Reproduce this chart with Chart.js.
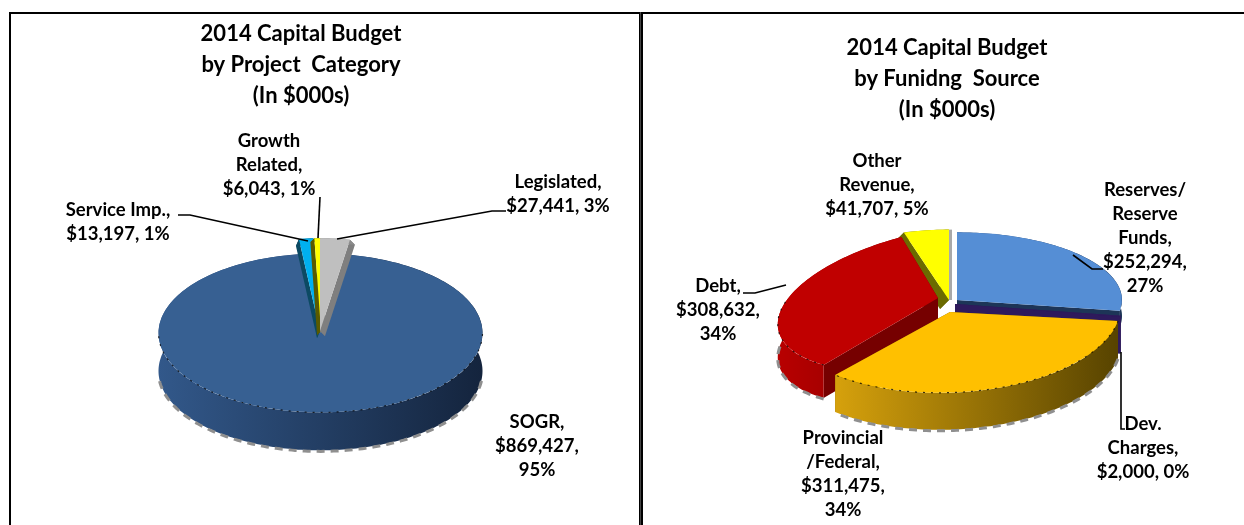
<!DOCTYPE html>
<html>
<head>
<meta charset="utf-8">
<script src="https://cdn.jsdelivr.net/npm/chart.js@4"></script>
<style>
  html, body { margin: 0; padding: 0; background: #fff; width: 1244px; height: 525px; overflow: hidden; }
  .rule { position: absolute; background: #000; }
  .chartbox { position: absolute; top: 0; height: 525px; }
</style>
</head>
<body>
<div class="rule" style="left:9px;top:12px;width:1235px;height:2px;"></div>
<div class="rule" style="left:9px;top:12px;width:2px;height:513px;"></div>
<div class="rule" style="left:639px;top:12px;width:4px;height:513px;background:linear-gradient(90deg,#000 0 35%,#444 35% 60%,#000 60% 100%);"></div>
<div class="chartbox" style="left:12px;width:620px;"><canvas id="byCategory"></canvas></div>
<div class="chartbox" style="left:645px;width:604px;"><canvas id="bySource"></canvas></div>
<script>
// Capital budget, $000s
const categoryNames = ["Legislated", "SOGR", "Service Imp.", "Growth Related"];
const categoryValues = [27441, 869427, 13197, 6043];
const categoryLabels = [
  ["Legislated,", "$27,441, 3%"],
  ["SOGR,", "$869,427,", "95%"],
  ["Service Imp.,", "$13,197, 1%"],
  ["Growth", "Related,", "$6,043, 1%"]
];
const categoryTitle = ["2014 Capital Budget", "by Project  Category", "(In $000s)"];

const sourceNames = ["Reserves/Reserve Funds", "Dev. Charges", "Provincial/Federal", "Debt", "Other Revenue"];
const sourceValues = [252294, 2000, 311475, 308632, 41707];
const sourceLabels = [
  ["Reserves/", "Reserve", "Funds,", "$252,294,", "27%"],
  ["Dev.", "Charges,", "$2,000, 0%"],
  ["Provincial", "/Federal,", "$311,475,", "34%"],
  ["Debt,", "$308,632,", "34%"],
  ["Other", "Revenue,", "$41,707, 5%"]
];
const sourceTitle = ["2014 Capital Budget", "by Funidng  Source", "(In $000s)"];

// Per-slice tilt: centre, affine map of the flat circle, radius, extrusion vector and colours.
const categoryFaces = [
  { cx: 320, cy: 331, a: 1, b: 0, c: 0, d: 0.58, r: 160, ex: 5, ey: 5, top: "#BFBFBF", cut: "#7f7f7f", wall: ["#8c8c8c", "#8c8c8c"] },
  { cx: 320.5, cy: 333, a: 1, b: 0, c: 0, d: 0.49, r: 162, ex: 0, ey: 38, top: "#376092", cut: "#1b2f49", wall: ["#32588a", "#14243d"], rim: true },
  { cx: 320, cy: 331, a: 1, b: 0, c: 0, d: 0.58, r: 160, ex: -3, ey: 7, top: "#00B0F0", cut: "#0c4a63", wall: ["#0c4a63", "#0c4a63"] },
  { cx: 321, cy: 331, a: 1, b: 0, c: 0, d: 0.58, r: 160, ex: -4, ey: 4, top: "#FFFF00", cut: "#5a5a00", wall: ["#5a5a00", "#5a5a00"] }
];
const categoryOrder = [1, 2, 3, 0];

const sourceFaces = [
  { cx: 957, cy: 300, a: 1, b: 0, c: 0, d: 0.41, r: 165, ex: 0, ey: 16, top: "#558ED5", cut: "#1d3557", wall: ["#2b4c7a", "#1d3557"] },
  { cx: 955, cy: 304, a: 1, b: 0, c: 0, d: 0.44, r: 168, ex: 0, ey: 37, top: "#2e1a5c", cut: "#2e1a5c", wall: ["#2e1a5c", "#2e1a5c"] },
  { cx: 950, cy: 312, a: 1.015, b: -0.03, c: 0, d: 0.48, r: 168, ex: 0, ey: 37, top: "#FFC000", cut: "#7a5c00", wall: ["#d6a10c", "#574300"], rim: true },
  { cx: 938, cy: 298, a: 1, b: -0.14, c: -0.056, d: 0.4385, r: 160, ex: 0, ey: 33, top: "#C00000", cut: "#760000", wall: ["#b80000", "#8c0000"], rim: true },
  { cx: 949, cy: 300, a: 1, b: 0, c: 0, d: 0.44, r: 160, ex: -9, ey: 9, top: "#FFFF00", cut: "#6b6b00", wall: ["#6b6b00", "#6b6b00"], sheen: "#a9a9a9" }
];
const sourceOrder = [4, 3, 0, 1, 2];

// Label anchors (centre x, centre y of the first line) and leader polylines.
const categoryLabelSpots = [[558, 182], [537, 422], [118, 210], [269, 141]];
const categoryLeaders = [
  [[506, 211], [492, 211], [337, 239]],
  [[178, 215], [190, 215], [308, 241]],
  [[320, 197], [318, 238]]
];
const sourceLabelSpots = [[1145, 190], [1143, 424], [843, 438], [718, 286], [877, 161]];
const sourceLeaders = [
  [[743, 293], [755, 293], [786, 285]],
  [[1103, 269], [1092, 269], [1073, 255]],
  [[1125, 429], [1121, 429], [1121, 352]]
];

const FONT = "Lato, 'Noto Sans', sans-serif";

function project(face, angle, radius) {
  const x = Math.cos(angle) * radius, y = Math.sin(angle) * radius;
  return [face.cx + face.a * x + face.c * y, face.cy + face.b * x + face.d * y];
}

// Side walls are painted first, then the library's own arc sits on top as the lid.
function drawWalls(ctx, face, arc) {
  const p = arc.getProps(["startAngle", "endAngle"], true);
  const start = p.startAngle, end = p.endAngle;
  const steps = Math.max(4, Math.ceil((end - start) / 0.02));
  const outer = [];
  for (let i = 0; i <= steps; i++) outer.push(project(face, start + (end - start) * i / steps, face.r));
  const apex = [face.cx, face.cy];
  const polyFill = (pts, fill) => {
    ctx.beginPath();
    pts.forEach((q, i) => i ? ctx.lineTo(q[0], q[1]) : ctx.moveTo(q[0], q[1]));
    ctx.closePath();
    ctx.fillStyle = fill;
    ctx.fill();
  };
  const shift = q => [q[0] + face.ex, q[1] + face.ey];
  if (face.sheen) {
    polyFill([[apex[0] + 3, apex[1]], [outer[steps][0] + 3, outer[steps][1]], outer[steps], apex], face.sheen);
  }
  polyFill([apex, outer[0], shift(outer[0]), shift(apex)], face.cut);
  polyFill([apex, outer[steps], shift(outer[steps]), shift(apex)], face.cut);

  const xs = outer.map(q => q[0]);
  const grad = ctx.createLinearGradient(Math.min(...xs), 0, Math.max(...xs), 0);
  grad.addColorStop(0, face.wall[0]);
  grad.addColorStop(1, face.wall[1]);
  polyFill(outer.concat(outer.map(shift).reverse()), grad);

  if (face.rim) {
    const front = outer.filter(q => q[1] > face.cy + 8);
    ctx.save();
    ctx.beginPath();
    front.map(shift).forEach((q, i) => i ? ctx.lineTo(q[0], q[1] + 1) : ctx.moveTo(q[0], q[1] + 1));
    ctx.strokeStyle = "#8f8f8f";
    ctx.lineWidth = 3;
    ctx.setLineDash([8, 6]);
    ctx.stroke();
    ctx.restore();
  }
}

function drawLidEdge(ctx, face, arc) {
  if (!face.rim) return;
  const p = arc.getProps(["startAngle", "endAngle"], true);
  const steps = Math.ceil((p.endAngle - p.startAngle) / 0.02);
  ctx.save();
  ctx.beginPath();
  let moved = false;
  for (let i = 0; i <= steps; i++) {
    const q = project(face, p.startAngle + (p.endAngle - p.startAngle) * i / steps, face.r);
    if (q[1] < face.cy) { moved = false; continue; }
    if (moved) ctx.lineTo(q[0], q[1]); else ctx.moveTo(q[0], q[1]);
    moved = true;
  }
  ctx.strokeStyle = "rgba(0,0,0,0.75)";
  ctx.lineWidth = 1.2;
  ctx.setLineDash([2, 6]);
  ctx.stroke();
  ctx.restore();
}

const tiltedPie = {
  id: "tiltedPie",
  // Replaces the default flat painting of the dataset.
  beforeDatasetDraw(chart, args, opts) {
    const ctx = chart.ctx;
    const arcs = chart.getDatasetMeta(0).data;
    ctx.save();
    ctx.translate(-opts.originX, 0);
    opts.order.forEach(i => {
      const face = opts.faces[i], arc = arcs[i];
      drawWalls(ctx, face, arc);
      const s = face.r / arc.outerRadius;
      ctx.save();
      ctx.translate(face.cx, face.cy);
      ctx.transform(face.a * s, face.b * s, face.c * s, face.d * s, 0, 0);
      ctx.translate(-arc.x, -arc.y);
      arc.draw(ctx);
      ctx.restore();
      drawLidEdge(ctx, face, arc);
    });
    ctx.restore();
    return false;
  },
  afterDraw(chart, args, opts) {
    const ctx = chart.ctx;
    ctx.save();
    ctx.translate(-opts.originX, 0);
    ctx.strokeStyle = "#000";
    ctx.lineWidth = 1.6;
    opts.leaders.forEach(line => {
      ctx.beginPath();
      line.forEach((q, i) => i ? ctx.lineTo(q[0], q[1]) : ctx.moveTo(q[0], q[1]));
      ctx.stroke();
    });
    ctx.fillStyle = "#000";
    ctx.font = "700 18.5px " + FONT;
    ctx.textAlign = "center";
    ctx.textBaseline = "middle";
    opts.labels.forEach((lines, i) => {
      const spot = opts.spots[i];
      lines.forEach((text, j) => ctx.fillText(text, spot[0], spot[1] + j * 24));
    });
    ctx.restore();
  }
};

function buildPie(id, names, values, title, faces, order, labels, spots, leaders, originX, titleShift, titleTop) {
  return new Chart(document.getElementById(id), {
    type: "pie",
    data: {
      labels: names,
      datasets: [{ data: values, backgroundColor: faces.map(f => f.top), borderWidth: 0 }]
    },
    options: {
      responsive: true,
      maintainAspectRatio: false,
      animation: false,
      rotation: 0,
      layout: { padding: { top: titleTop, right: titleShift } },
      plugins: {
        legend: { display: false },
        tooltip: { enabled: false },
        title: {
          display: true,
          text: title,
          color: "#000",
          font: { family: FONT, weight: "700", size: 22, lineHeight: 1.41 },
          padding: 0
        },
        tiltedPie: { faces, order, labels, spots, leaders, originX }
      }
    },
    plugins: [tiltedPie]
  });
}

buildPie("byCategory", categoryNames, categoryValues, categoryTitle, categoryFaces, categoryOrder,
  categoryLabels, categoryLabelSpots, categoryLeaders, 12, 42, 18);
buildPie("bySource", sourceNames, sourceValues, sourceTitle, sourceFaces, sourceOrder,
  sourceLabels, sourceLabelSpots, sourceLeaders, 645, 0, 32);
</script>
</body>
</html>
